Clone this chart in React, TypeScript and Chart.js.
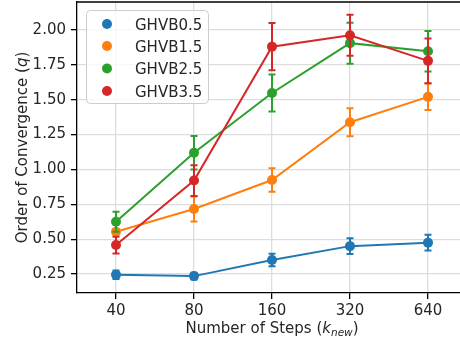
import React, { useEffect, useRef } from "react";
import { Chart, registerables } from "chart.js";

Chart.register(...registerables);

// Convergence order per solver, with the standard error of each estimate
const steps = ["40", "80", "160", "320", "640"];
const ghvb05 = [0.245, 0.235, 0.35, 0.45, 0.475];
const ghvb05Err = [0.03, 0.025, 0.045, 0.057, 0.057];
const ghvb15 = [0.553, 0.716, 0.924, 1.338, 1.52];
const ghvb15Err = [0.02, 0.09, 0.085, 0.1, 0.095];
const ghvb25 = [0.625, 1.12, 1.548, 1.905, 1.847];
const ghvb25Err = [0.072, 0.12, 0.133, 0.147, 0.145];
const ghvb35 = [0.458, 0.92, 1.88, 1.962, 1.778];
const ghvb35Err = [0.06, 0.11, 0.17, 0.147, 0.16];
const yTicks = [0.25, 0.5, 0.75, 1.0, 1.25, 1.5, 1.75, 2.0];
const seriesNames = ["GHVB0.5", "GHVB1.5", "GHVB2.5", "GHVB3.5"];
const seriesColors = ["#1f77b4", "#ff7f0e", "#2ca02c", "#d62728"];

const FONT = "'DejaVu Sans', sans-serif";
const TEXT = "#262626";
const SIZE = 15;
// canvas is shifted up by this much so the plot frame sits at the top edge
const SHIFT = 3;

const errorBars = {
  id: "errorBars",
  beforeDatasetDraw(chart: any, args: any) {
    const ds = chart.data.datasets[args.index];
    const errs: number[] = ds.errors;
    if (!errs) return;
    const y = chart.scales.y;
    const ctx = chart.ctx;
    ctx.save();
    ctx.strokeStyle = ds.borderColor;
    ctx.lineWidth = 2;
    args.meta.data.forEach((pt: any, i: number) => {
      const v = ds.data[i];
      const top = y.getPixelForValue(v + errs[i]);
      const bot = y.getPixelForValue(v - errs[i]);
      ctx.beginPath();
      ctx.moveTo(pt.x, top);
      ctx.lineTo(pt.x, bot);
      ctx.moveTo(pt.x - 3.5, top);
      ctx.lineTo(pt.x + 3.5, top);
      ctx.moveTo(pt.x - 3.5, bot);
      ctx.lineTo(pt.x + 3.5, bot);
      ctx.stroke();
    });
    ctx.restore();
  },
};

const decorations = {
  id: "decorations",
  afterDraw(chart: any) {
    const ctx = chart.ctx;
    const a = chart.chartArea;
    ctx.save();
    // top and right spines
    ctx.strokeStyle = "#000";
    ctx.lineWidth = 1.3;
    ctx.beginPath();
    ctx.moveTo(a.left, a.top);
    ctx.lineTo(a.right, a.top);
    ctx.lineTo(a.right, a.bottom);
    ctx.stroke();

    // legend
    const lx = 86, ly = 10 + SHIFT, lw = 122, lh = 93;
    ctx.fillStyle = "rgba(255,255,255,0.8)";
    ctx.strokeStyle = "#cccccc";
    ctx.lineWidth = 1;
    ctx.beginPath();
    ctx.roundRect(lx + 0.5, ly + 0.5, lw, lh, 4);
    ctx.fill();
    ctx.stroke();
    const rowY = [24, 46, 68.5, 91];
    ctx.font = `${SIZE}px ${FONT}`;
    ctx.textBaseline = "alphabetic";
    ctx.textAlign = "left";
    seriesNames.forEach((name, i) => {
      const ry = rowY[i] + SHIFT;
      ctx.fillStyle = seriesColors[i];
      ctx.beginPath();
      ctx.arc(107, ry, 5, 0, Math.PI * 2);
      ctx.fill();
      ctx.fillStyle = TEXT;
      ctx.fillText(name, 135, ry + 5.5);
    });

    // x-axis title: Number of Steps (k_new)
    const reg = `${SIZE}px ${FONT}`;
    const ital = `italic ${SIZE}px ${FONT}`;
    const sub = `italic 10.5px ${FONT}`;
    const p1 = "Number of Steps (";
    ctx.font = reg;
    const w1 = ctx.measureText(p1).width;
    const w4 = ctx.measureText(")").width;
    ctx.font = ital;
    const w2 = ctx.measureText("k").width;
    ctx.font = sub;
    const w3 = ctx.measureText("new").width;
    const total = w1 + w2 + w3 + w4;
    let x = (a.left + a.right) / 2 - total / 2;
    const by = 333 + SHIFT;
    ctx.fillStyle = TEXT;
    ctx.font = reg;
    ctx.fillText(p1, x, by);
    x += w1;
    ctx.font = ital;
    ctx.fillText("k", x, by);
    x += w2;
    ctx.font = sub;
    ctx.fillText("new", x, by + 3);
    x += w3;
    ctx.font = reg;
    ctx.fillText(")", x, by);

    // y-axis title: Order of Convergence (q)
    ctx.save();
    ctx.translate(27, (a.top + a.bottom) / 2);
    ctx.rotate(-Math.PI / 2);
    const q1 = "Order of Convergence (";
    ctx.font = reg;
    const v1 = ctx.measureText(q1).width;
    const v3 = ctx.measureText(")").width;
    ctx.font = ital;
    const v2 = ctx.measureText("q").width;
    let t = -(v1 + v2 + v3) / 2;
    ctx.font = reg;
    ctx.fillText(q1, t, 0);
    t += v1;
    ctx.font = ital;
    ctx.fillText("q", t, 0);
    t += v2;
    ctx.font = reg;
    ctx.fillText(")", t, 0);
    ctx.restore();
    ctx.restore();
  },
};

const noEdgePadding = (s: any) => {
  s.paddingTop = 0;
  s.paddingBottom = 0;
  s.paddingLeft = 0;
  s.paddingRight = 0;
};

export default function App() {
  const ref = useRef<HTMLCanvasElement>(null);

  useEffect(() => {
    const values = [ghvb05, ghvb15, ghvb25, ghvb35];
    const errors = [ghvb05Err, ghvb15Err, ghvb25Err, ghvb35Err];
    const chart = new Chart(ref.current!, {
      type: "line",
      data: {
        labels: steps,
        datasets: seriesNames.map((name, i) => ({
          label: name,
          data: values[i],
          errors: errors[i],
          borderColor: seriesColors[i],
          backgroundColor: seriesColors[i],
          borderWidth: 2,
          pointRadius: 5,
          pointHoverRadius: 5,
          pointBorderWidth: 0,
          tension: 0,
          order: seriesNames.length - i,
        })) as any,
      },
      options: {
        responsive: false,
        animation: false,
        devicePixelRatio: 1,
        layout: { padding: { top: 0, right: 1, left: 0, bottom: 0 } },
        plugins: { legend: { display: false }, tooltip: { enabled: false } },
        scales: {
          x: {
            type: "category",
            offset: true,
            grid: {
              color: "#dddddd",
              lineWidth: 1.3,
              offset: false,
              tickLength: 6,
              tickColor: "#000",
              drawTicks: true,
            },
            border: { color: "#000", width: 1.3 },
            ticks: { color: TEXT, font: { family: FONT, size: SIZE }, padding: 3 },
            afterFit: (s: any) => {
              s.height = 48;
              noEdgePadding(s);
            },
          },
          y: {
            min: 0.114,
            max: 2.2,
            afterBuildTicks: (s: any) => {
              s.ticks = yTicks.map((v) => ({ value: v }));
            },
            grid: {
              color: "#dddddd",
              lineWidth: 1.3,
              tickLength: 6,
              tickColor: "#000",
            },
            border: { color: "#000", width: 1.3 },
            ticks: {
              color: TEXT,
              font: { family: FONT, size: SIZE },
              padding: 5,
              callback: (v: any) => Number(v).toFixed(2),
            },
            afterFit: (s: any) => {
              s.width = 77;
              noEdgePadding(s);
            },
          },
        },
      },
      plugins: [errorBars, decorations],
    });
    return () => chart.destroy();
  }, []);

  return (
    <div
      style={{
        position: "fixed",
        left: 0,
        top: 0,
        width: 460,
        height: 341,
        overflow: "hidden",
        background: "#fff",
      }}
    >
      <canvas
        ref={ref}
        width={472}
        height={341 + SHIFT}
        style={{ display: "block", marginTop: -SHIFT }}
      />
    </div>
  );
}
